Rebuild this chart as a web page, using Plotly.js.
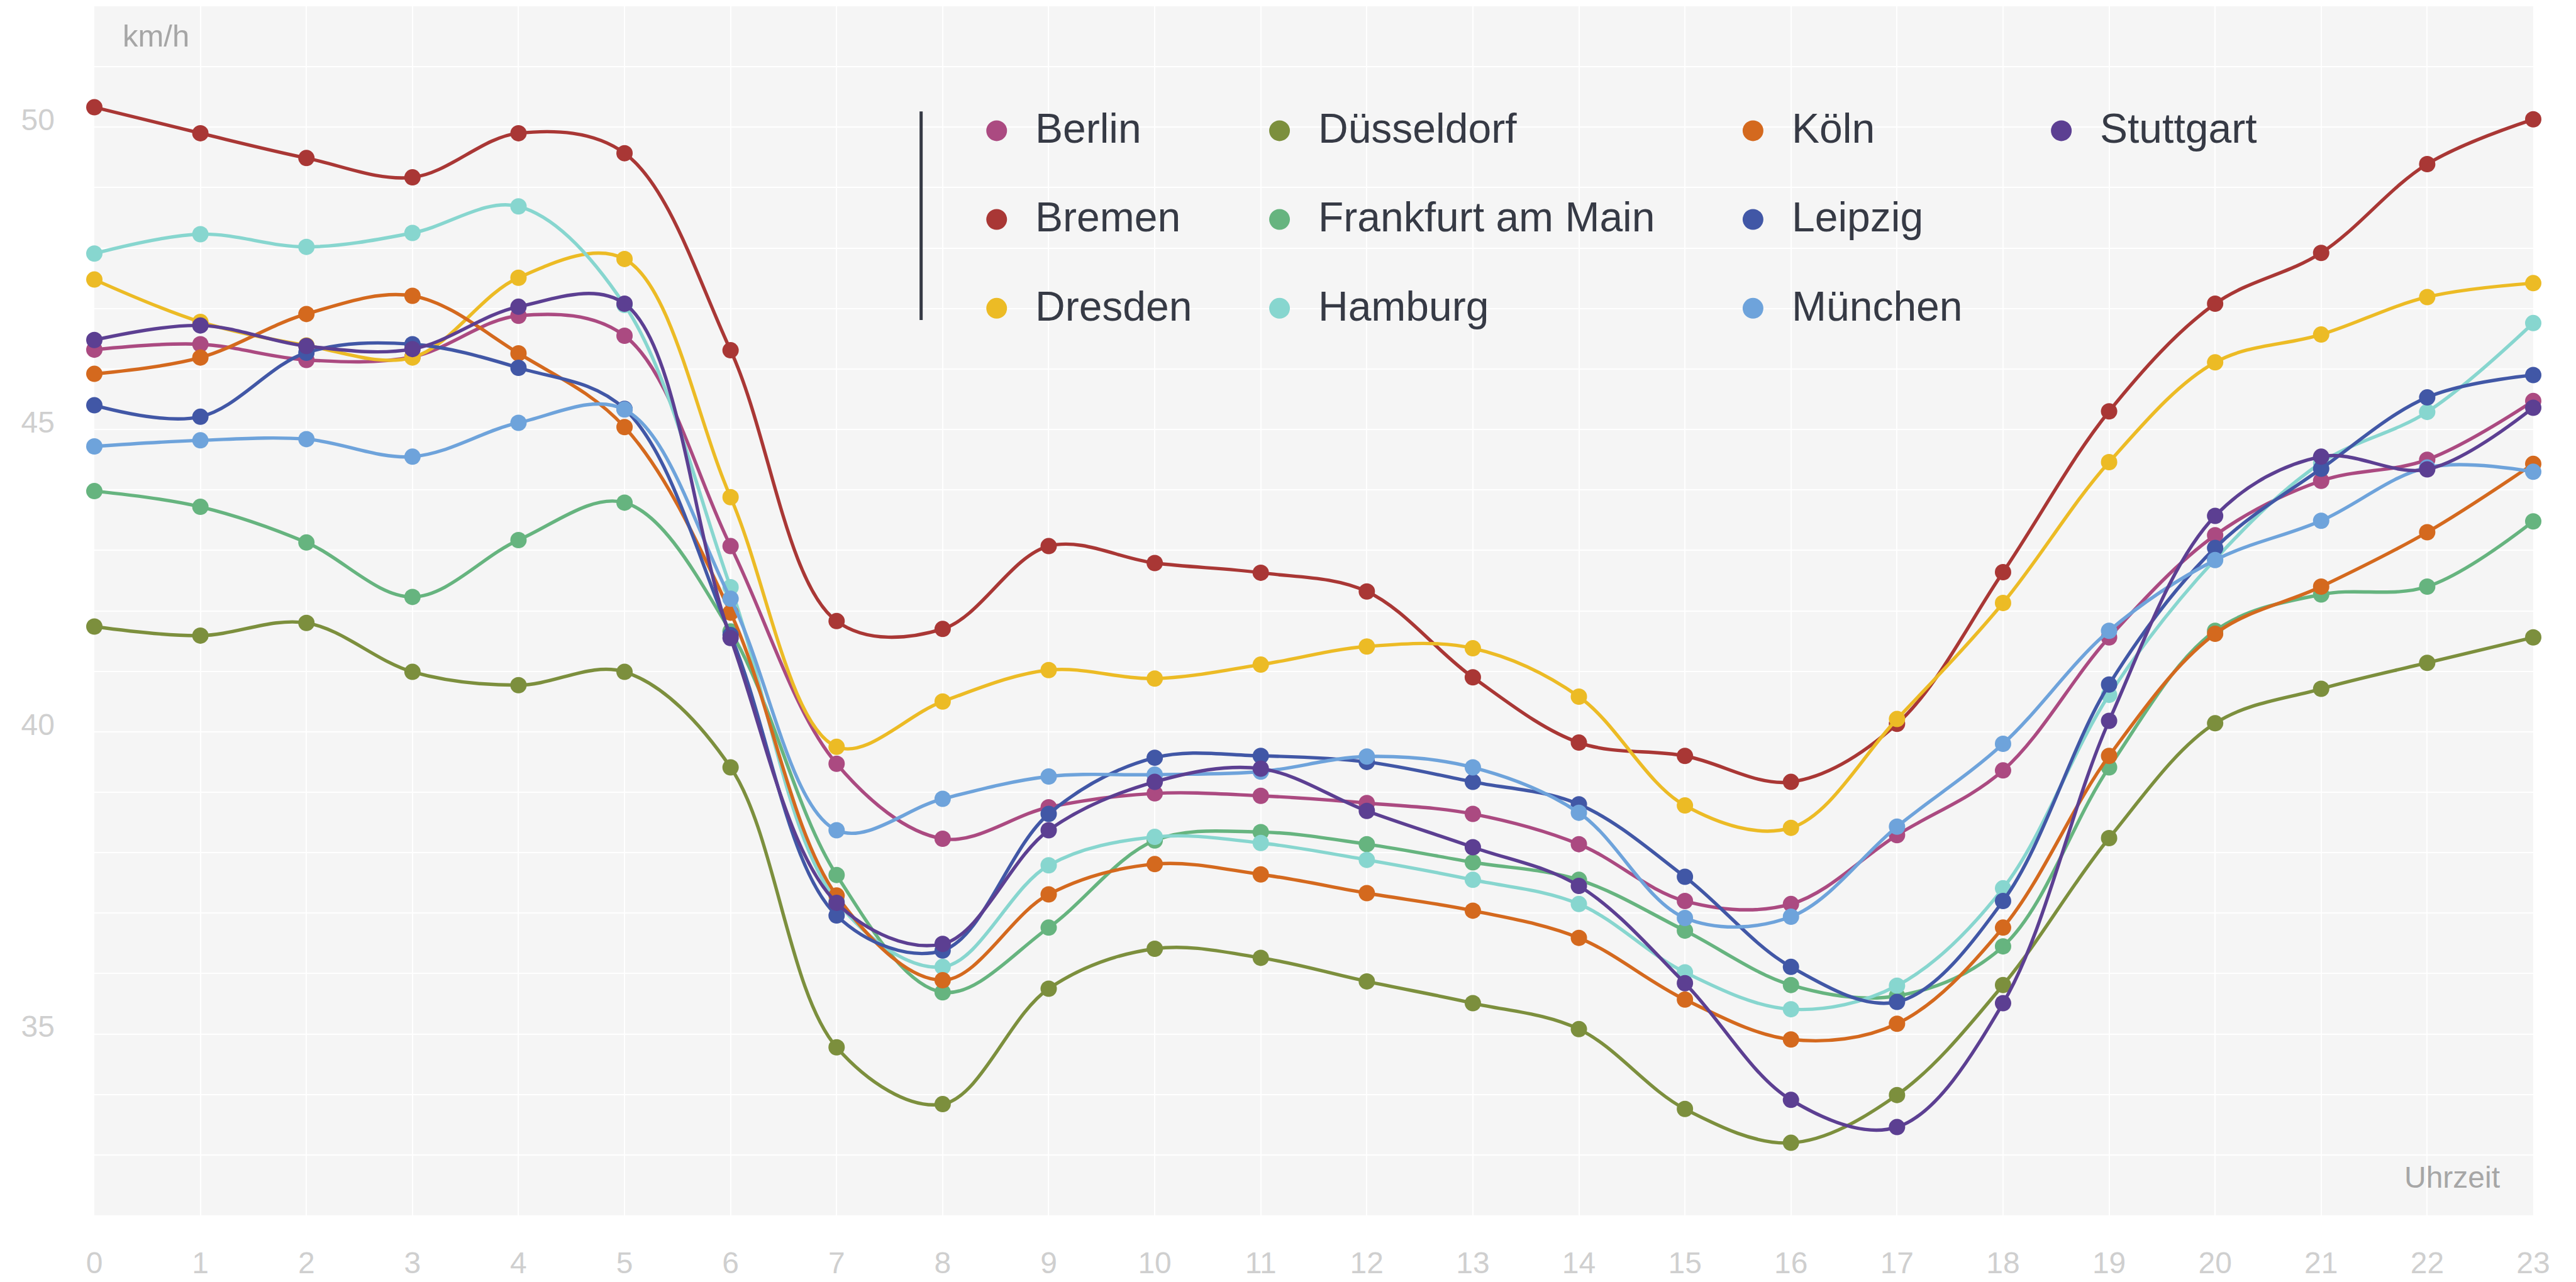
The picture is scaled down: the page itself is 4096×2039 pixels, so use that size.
<!DOCTYPE html>
<html>
<head>
<meta charset="utf-8">
<script src="https://cdn.plot.ly/plotly-3.0.1.min.js"></script>
<style>
  html, body { margin: 0; padding: 0; background: #ffffff; }
  #chart { width: 4096px; height: 2039px; }
</style>
</head>
<body>
<div id="chart"></div>
<script>
// ---- Data ----
const hours = [0,1,2,3,4,5,6,7,8,9,10,11,12,13,14,15,16,17,18,19,20,21,22,23];

const cities = ["Berlin","Bremen","Dresden","Düsseldorf","Frankfurt am Main","Hamburg","Köln","Leipzig","München","Stuttgart"];

const berlin      = [46.32,46.41,46.15,46.20,46.88,46.55,43.07,39.47,38.23,38.75,38.98,38.94,38.82,38.64,38.14,37.20,37.15,38.29,39.36,41.56,43.25,44.15,44.50,45.47];
const bremen      = [50.33,49.90,49.49,49.17,49.90,49.57,46.31,41.83,41.70,43.07,42.79,42.63,42.32,40.90,39.82,39.60,39.17,40.13,42.64,45.30,47.08,47.92,49.39,50.13];
const dresden     = [47.48,46.78,46.39,46.19,47.51,47.82,43.88,39.75,40.50,41.02,40.88,41.11,41.41,41.38,40.58,38.78,38.41,40.21,42.13,44.46,46.11,46.57,47.19,47.42];
const duesseldorf = [41.74,41.59,41.80,40.99,40.77,40.99,39.41,34.78,33.84,35.75,36.41,36.26,35.87,35.51,35.08,33.76,33.20,33.99,35.81,38.24,40.14,40.71,41.14,41.56];
const frankfurt   = [43.98,43.72,43.13,42.23,43.17,43.79,41.66,37.63,35.69,36.76,38.20,38.34,38.14,37.84,37.55,36.71,35.81,35.63,36.45,39.41,41.67,42.27,42.40,43.48];
const hamburg     = [47.91,48.23,48.02,48.25,48.69,47.06,42.39,37.20,36.11,37.79,38.26,38.16,37.88,37.55,37.15,36.02,35.41,35.80,37.41,40.61,42.85,44.45,45.29,46.76];
const koeln       = [45.92,46.19,46.91,47.21,46.26,45.04,41.97,37.29,35.89,37.31,37.81,37.64,37.33,37.04,36.59,35.57,34.91,35.17,36.76,39.60,41.62,42.40,43.30,44.43];
const leipzig     = [45.40,45.21,46.27,46.41,46.02,45.34,41.60,36.96,36.38,38.64,39.57,39.60,39.50,39.17,38.80,37.60,36.11,35.53,37.20,40.78,43.04,44.35,45.53,45.90];
const muenchen    = [44.72,44.82,44.84,44.55,45.11,45.33,42.20,38.37,38.89,39.26,39.29,39.34,39.59,39.41,38.66,36.92,36.94,38.43,39.80,41.67,42.84,43.49,44.37,44.30];
const stuttgart   = [46.48,46.72,46.38,46.33,47.03,47.08,41.55,37.17,36.49,38.37,39.17,39.39,38.69,38.09,37.45,35.84,33.91,33.46,35.51,40.18,43.57,44.55,44.34,45.36];

const series = [berlin, bremen, dresden, duesseldorf, frankfurt, hamburg, koeln, leipzig, muenchen, stuttgart];

const colors = ["#ab4a81","#a93735","#ecbb25","#7c8f3d","#66b47f","#87d6cf","#d4691e","#4157a6","#6ea3db","#5c3f92"];

const yTickVals = [35, 40, 45, 50];
const yUnit = "km/h";
const xUnit = "Uhrzeit";

// ---- Styling / layout constants ----
const FONT = "Liberation Sans, Arial, Helvetica, sans-serif";
const PLOT_BG = "#f5f5f5";
const TEXT_DARK = "#363a45";

// legend grid (column-major, 3 rows) in paper coordinates
const legendColX = [0.36997, 0.48596, 0.68009, 0.80651];
const legendRowY = [0.8971, 0.8237, 0.7502];
const legendTextDX = 0.0154;

const traces = cities.map((name, i) => ({
  type: "scatter",
  mode: "lines+markers",
  name: name,
  x: hours,
  y: series[i],
  line: { color: colors[i], width: 5.4, shape: "spline", smoothing: 1 },
  marker: { color: colors[i], size: 26, line: { width: 0 } },
  cliponaxis: false,
  showlegend: false,
  hoverinfo: "x+y+name"
}));

const shapes = [
  // legend background (hides gridlines, drawn below traces)
  { type: "rect", xref: "paper", yref: "paper", x0: 0.3173, x1: 0.9005, y0: 0.7030, y1: 1.0,
    fillcolor: PLOT_BG, line: { width: 0 }, layer: "between" },
  // legend left bar
  { type: "line", xref: "paper", yref: "paper", x0: 0.3390, x1: 0.3390, y0: 0.7405, y1: 0.9130,
    line: { color: TEXT_DARK, width: 5 }, layer: "above" }
];

const annotations = [
  { text: yUnit, xref: "paper", yref: "paper", x: 0.0112, y: 0.9757, xanchor: "left", yanchor: "middle",
    showarrow: false, font: { family: FONT, size: 49, color: "#a6a6a6" } },
  { text: xUnit, xref: "paper", yref: "paper", x: 0.9868, y: 0.0314, xanchor: "right", yanchor: "middle",
    showarrow: false, font: { family: FONT, size: 48, color: "#a6a6a6" } }
];

cities.forEach((name, i) => {
  const col = Math.floor(i / 3);
  const row = i % 3;
  const cx = legendColX[col];
  const cy = legendRowY[row];
  shapes.push({
    type: "circle", xref: "paper", yref: "paper",
    xsizemode: "pixel", ysizemode: "pixel",
    xanchor: cx, yanchor: cy,
    x0: -16.5, x1: 16.5, y0: -16.5, y1: 16.5,
    fillcolor: colors[i], line: { width: 0 }, layer: "above"
  });
  annotations.push({
    text: name, xref: "paper", yref: "paper",
    x: cx + legendTextDX, y: cy + 0.002, xanchor: "left", yanchor: "middle",
    showarrow: false, font: { family: FONT, size: 66, color: TEXT_DARK }
  });
});

const layout = {
  width: 4096,
  height: 2039,
  margin: { l: 150, r: 68, t: 10, b: 106, pad: 0 },
  paper_bgcolor: "#ffffff",
  plot_bgcolor: PLOT_BG,
  font: { family: FONT },
  showlegend: false,
  xaxis: {
    range: [0, 23],
    tickmode: "array",
    tickvals: hours,
    ticktext: hours.map(String),
    showgrid: true,
    gridcolor: "#ffffff",
    gridwidth: 2,
    zeroline: false,
    showline: false,
    ticks: "",
    ticklabelstandoff: 43,
    tickfont: { family: FONT, size: 48, color: "#cfcfcf" }
  },
  yaxis: {
    range: [32, 52],
    tickmode: "array",
    tickvals: yTickVals,
    ticktext: yTickVals.map(String),
    showgrid: true,
    gridcolor: "#ffffff",
    gridwidth: 2,
    minor: { dtick: 1, showgrid: true, gridcolor: "#ffffff", gridwidth: 2, ticks: "" },
    zeroline: false,
    showline: false,
    ticks: "",
    ticklabelstandoff: 62,
    ticklabelshift: -12,
    tickfont: { family: FONT, size: 48, color: "#cfcfcf" }
  },
  shapes: shapes,
  annotations: annotations
};

Plotly.newPlot("chart", traces, layout, { displayModeBar: false, staticPlot: true });
</script>
</body>
</html>
